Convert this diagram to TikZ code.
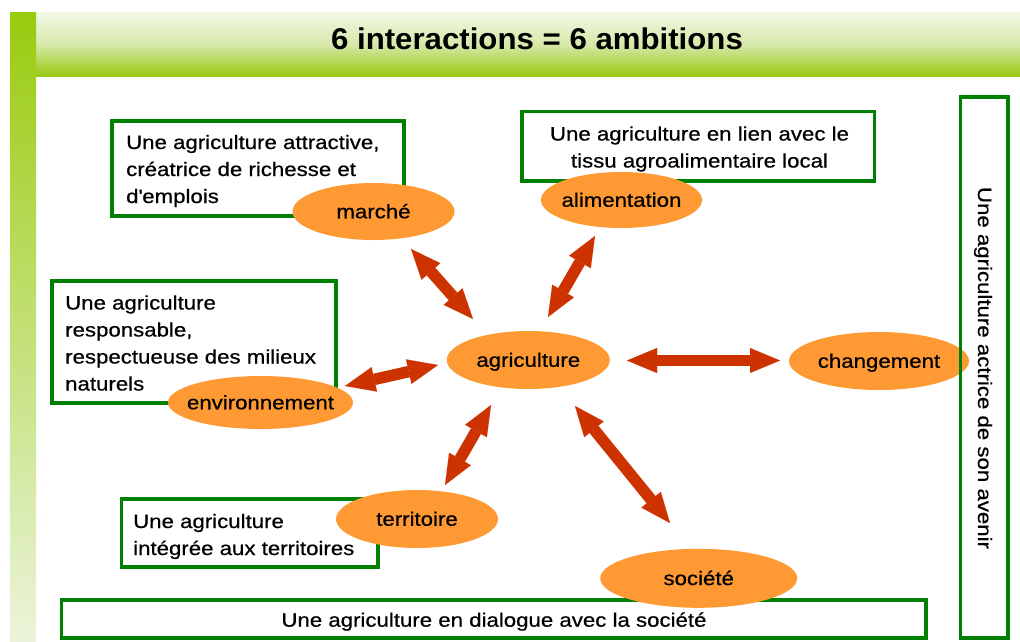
\documentclass[tikz,border=0pt]{standalone}
\usepackage{fontspec}
\setmainfont[FakeStretch=1.14,FakeBold=0.6]{Liberation Sans}
\newfontfamily\mytitlefont[FakeStretch=1.04]{Liberation Sans}
\usetikzlibrary{shapes.geometric,arrows.meta}
\definecolor{boxgreen}{HTML}{008000}
\definecolor{ovalorange}{HTML}{FF9933}
\definecolor{arrowred}{HTML}{CC3300}
\definecolor{barTop}{HTML}{99CB0E}
\definecolor{barBottom}{HTML}{EBF4DB}
\definecolor{bandTop}{HTML}{F3F8E7}
\definecolor{bandMid}{HTML}{D6E9AA}
\definecolor{bandBottom}{HTML}{99CA12}
\newcommand\mybodyfont{\fontsize{19.5}{27}\selectfont}
\newcommand\ctext[1]{\makebox[0pt]{#1}}
\begin{document}
\begin{tikzpicture}[x=1pt,y=-1pt,
  gbox/.style={draw=boxgreen, line width=3.5pt, rectangle, inner sep=0pt},
  oval/.style={ellipse, fill=ovalorange, inner sep=0pt, text height=13.5pt, text depth=0pt, font=\mybodyfont},
  txt/.style={inner sep=0pt, font=\mybodyfont, align=left},
  dblarrow/.style={draw=arrowred, line width=11.5pt,
    {Triangle[length=30pt,width=25pt,line width=0.01pt]}-{Triangle[length=30pt,width=25pt,line width=0.01pt]}}
]
\useasboundingbox (0,0) rectangle (1020,641);
% header band and side bar
\shade[top color=bandTop, bottom color=bandBottom, middle color=bandMid] (36,12) rectangle (1020,76);
\shade[top color=barTop, bottom color=barBottom] (10,12) rectangle (36,641);
\node[anchor=base, inner sep=0pt, font=\mytitlefont\bfseries\fontsize{30}{36}\selectfont] (title) at (537,49.5) {6 interactions = 6 ambitions};

% green boxes
\node[gbox, minimum width=292pt, minimum height=95pt] (box1) at (258,168.5) {};
\node[gbox, minimum width=352.5pt, minimum height=69.5pt] (box2) at (698.25,146.25) {};
\node[gbox, minimum width=284pt, minimum height=122pt] (box3) at (194,342) {};
\node[gbox, minimum width=256.5pt, minimum height=68pt] (box5) at (249.75,533) {};
\node[gbox, minimum width=864.5pt, minimum height=38pt] (box6) at (493.75,619) {};

% ovals
\node[oval, minimum width=162pt, minimum height=57pt] (marche) at (373.5,211.5) {\ctext{marché}};
\node[oval, minimum width=161pt, minimum height=56pt] (alim) at (621.5,200) {\ctext{alimentation}};
\node[oval, minimum width=163pt, minimum height=58pt] (agri) at (528.3,360) {\ctext{agriculture}};
\node[oval, minimum width=180pt, minimum height=58pt] (chang) at (879,361) {\ctext{changement}};
\node[oval, minimum width=185pt, minimum height=53pt] (envir) at (260.5,402.5) {\ctext{environnement}};
\node[oval, minimum width=162pt, minimum height=58pt] (terr) at (417,519) {\ctext{territoire}};
\node[oval, minimum width=197pt, minimum height=59pt] (soc) at (698.7,578.3) {\ctext{société}};

% arrows
\coordinate (a1s) at (411,249); \coordinate (a1e) at (473,319);
\coordinate (a2s) at (595,236); \coordinate (a2e) at (548,317);
\coordinate (a3s) at (345,386); \coordinate (a3e) at (438,365);
\coordinate (a4s) at (627,360.5); \coordinate (a4e) at (780,360.5);
\coordinate (a5s) at (491,405); \coordinate (a5e) at (445,485);
\coordinate (a6s) at (575,406); \coordinate (a6e) at (670,523);
\draw[dblarrow] (a1s) -- (a1e);
\draw[dblarrow] (a2s) -- (a2e);
\draw[dblarrow] (a3s) -- (a3e);
\draw[dblarrow] (a4s) -- (a4e);
\draw[dblarrow] (a5s) -- (a5e);
\draw[dblarrow] (a6s) -- (a6e);

% right vertical box
\node[gbox, minimum width=47.5pt, minimum height=541pt] (box4) at (984.25,367.5) {};

% texts (multi-line nodes: base anchor is the last line's baseline)
\node[txt, anchor=base west] (t1) at (126,203) {Une agriculture attractive,\\créatrice de richesse et\\d\textquotesingle emplois};
\node[txt, anchor=base, align=center] (t2) at (699.5,167.5) {Une agriculture en lien avec le\\tissu agroalimentaire local};
\node[txt, anchor=base west] (t3) at (65,390.5) {Une agriculture\\responsable,\\respectueuse des milieux\\naturels};
\node[txt, anchor=base west] (t5) at (133,555) {Une agriculture\\intégrée aux territoires};
\node[txt, anchor=base] (t6) at (494,626.7) {Une agriculture en dialogue avec la société};
\node[txt, anchor=base, rotate=-90] (t4) at (978,368) {Une agriculture actrice de son avenir};
\end{tikzpicture}
\end{document}
